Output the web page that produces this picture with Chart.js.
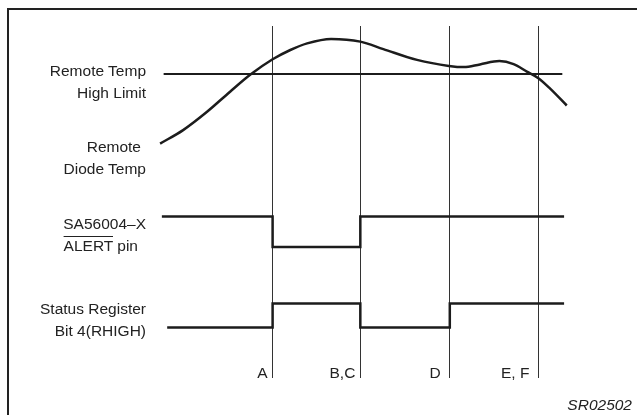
<!DOCTYPE html>
<html>
<head>
<meta charset="utf-8">
<script src="https://cdn.jsdelivr.net/npm/chart.js@4.4.0/dist/chart.umd.min.js"></script>
<style>
  html, body { margin: 0; padding: 0; background: #fff; overflow: hidden; }
  #wrap { position: relative; width: 637px; height: 415px; overflow: hidden; }
  #frame { position: absolute; left: 7px; top: 8px; width: 660px; height: 440px; border: 2px solid #222; box-sizing: border-box; }
  canvas { position: absolute; left: 0; top: 0; }
  .lbl { position: absolute; font-family: "Liberation Sans", Arial, sans-serif; font-size: 15.5px; line-height: 15.5px; color: #222; white-space: nowrap; }
  .ov { text-decoration: overline; }
</style>
</head>
<body>
<div id="wrap">
  <div id="frame"></div>
  <canvas id="timing" width="637" height="415"></canvas>
</div>
<script>
// time axis: one unit between events, A at t = 1
var events = ['A', 'B,C', 'D', 'E, F'];
var eventTimes = [1.0, 1.99, 3.0, 4.0];

// remote diode temperature (arbitrary deg C) against time
var tempTime = [-0.27, -0.01, 0.26, 0.52, 0.75, 1.0, 1.2, 1.39, 1.66, 1.99, 2.25, 2.63, 2.99, 3.16, 3.34, 3.56, 3.72, 3.87, 4.0, 4.13, 4.32];
var tempValues = [61.8, 66.3, 72.4, 79.1, 84.8, 89.9, 93.0, 95.2, 96.7, 95.8, 93.3, 89.7, 87.7, 87.3, 88.2, 89.3, 88.3, 85.8, 83.6, 80.2, 74.5];

// remote temp high limit
var highLimit = 85;
var limitTime = [-0.23, 4.27];

// ALERT pin (1 = high)
var alertTime = [-0.25, 1.0, 1.99, 4.29];
var alertLevel = [1, 0, 1, 1];

// status register bit 4 (RHIGH)
var statusTime = [-0.19, 1.0, 1.99, 3.0, 4.29];
var statusLevel = [0, 1, 0, 1, 1];

function pts(xs, ys) {
    return xs.map(function (x, i) { return { x: x, y: ys[i] }; });
}

var ink = '#1c1c1c';

var chart = new Chart(document.getElementById('timing'), {
    type: 'line',
    data: {
        datasets: [
            { data: pts(limitTime, [highLimit, highLimit]), yAxisID: 'yT', borderColor: ink, borderWidth: 2 },
            { data: pts(tempTime, tempValues), yAxisID: 'yT', borderColor: ink, borderWidth: 2.5, cubicInterpolationMode: 'monotone' },
            { data: pts(alertTime, alertLevel), yAxisID: 'yA', borderColor: ink, borderWidth: 2.5, stepped: true },
            { data: pts(statusTime, statusLevel), yAxisID: 'yS', borderColor: ink, borderWidth: 2.5, stepped: true }
        ]
    },
    options: {
        responsive: false,
        animation: false,
        layout: { padding: { top: 26, bottom: 37, left: 0, right: 0 } },
        elements: { point: { radius: 0 } },
        plugins: { legend: { display: false }, tooltip: { enabled: false } },
        scales: {
            x: {
                type: 'linear', min: -2.077, max: 5.113,
                afterBuildTicks: function (scale) {
                    scale.ticks = eventTimes.map(function (v) { return { value: v }; });
                },
                ticks: { display: false },
                grid: { color: '#333', lineWidth: 1, drawTicks: false },
                border: { display: false }
            },
            yT: { display: false, min: -16.333, max: 101 },
            yA: { display: false, min: -4.295, max: 7.246 },
            yS: { display: false, min: -2.104, max: 12.563 }
        }
    }
});

// side labels (right edge, top)
var wrap = document.getElementById('wrap');
function label(html, right, top, style) {
    var d = document.createElement('div');
    d.className = 'lbl';
    d.innerHTML = html;
    d.style.right = (637 - right) + 'px';
    d.style.top = top + 'px';
    if (style) d.style.fontStyle = style;
    wrap.appendChild(d);
}
label('Remote Temp', 146, 62.9);
label('High Limit', 146, 84.9);
label('Remote', 141, 139.4);
label('Diode Temp', 146, 160.9);
label('SA56004–X', 146, 215.9);
label('<span class="ov">ALERT</span> pin', 138, 237.9);
label('Status Register', 146, 300.9);
label('Bit 4(RHIGH)', 146, 323.4);
label('SR02502', 632, 396.9, 'italic');

// event letters just left of each event line
var gaps = [5, 5, 9, 9];
events.forEach(function (e, i) {
    label(e, chart.scales.x.getPixelForValue(eventTimes[i]) - gaps[i], 364.9);
});
</script>
</body>
</html>
